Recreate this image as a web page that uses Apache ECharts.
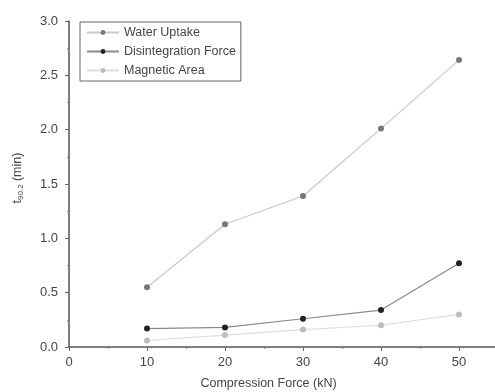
<!DOCTYPE html>
<html lang="en">
<head>
  <meta charset="UTF-8">
  <title>Compression Force</title>
  <script src="https://cdn.jsdelivr.net/npm/echarts@6/dist/echarts.min.js"></script>
  <style>
    body { margin: 0; background: #fff; }
  </style>
</head>
<body>
  <div id="main" style="width: 495px; height: 392px;"></div>
  <script>
    // data
    var forces = [10, 20, 30, 40, 50];
    var waterUptake = [0.55, 1.13, 1.39, 2.01, 2.64];
    var disintegration = [0.17, 0.18, 0.26, 0.34, 0.77];
    var magneticArea = [0.06, 0.11, 0.16, 0.20, 0.30];

    function pairs(ys) {
      return forces.map(function (x, i) { return [x, ys[i]]; });
    }

    var font = 'Liberation Sans, Arial, sans-serif';
    var myChart = echarts.init(document.getElementById('main'));

    var option = {
      animation: false,
      grid: { left: 69, right: -3, top: 21, bottom: 45, containLabel: false, outerBoundsMode: 'none' },
      legend: {
        left: 80, top: 22,
        orient: 'vertical',
        itemGap: 6,
        itemWidth: 32, itemHeight: 6,
        padding: [4, 5, 4, 6],
        borderColor: '#666', borderWidth: 1,
        textStyle: { fontFamily: font, fontSize: 12.5, color: '#444' },
        data: ['Water Uptake', 'Disintegration Force', 'Magnetic Area']
      },
      xAxis: {
        type: 'value', min: 0, max: 55, interval: 10,
        name: 'Compression Force (kN)',
        nameLocation: 'middle', nameGap: 30,
        nameTextStyle: { fontFamily: font, fontSize: 12.5, color: '#444', padding: [0, 30, 0, 0] },
        axisLine: { onZero: false, lineStyle: { color: '#555', width: 1.5 } },
        axisTick: { show: true, length: 4, lineStyle: { color: '#666' } },
        minorTick: { show: true, splitNumber: 2, length: 2, lineStyle: { color: '#888' } },
        axisLabel: {
          fontFamily: font, fontSize: 13, color: '#444', margin: 9,
          formatter: function (v) { return v > 50 ? '' : v; }
        },
        splitLine: { show: false }
      },
      yAxis: {
        type: 'value', min: 0, max: 3, interval: 0.5,
        name: '{t|t}{s|90.2} {t|(min)}',
        nameLocation: 'middle', nameGap: 44,
        nameTextStyle: {
          fontFamily: font, color: '#444', padding: [0, 0, 0, 12],
          rich: {
            t: { fontFamily: font, fontSize: 12.5, color: '#444' },
            s: { fontFamily: font, fontSize: 8, color: '#444', verticalAlign: 'bottom', padding: [6, 0, 0, 0] }
          }
        },
        axisLine: { show: true, lineStyle: { color: '#555', width: 1.5 } },
        axisTick: { show: true, length: 4, lineStyle: { color: '#666' } },
        minorTick: { show: true, splitNumber: 2, length: 2, lineStyle: { color: '#888' } },
        axisLabel: {
          fontFamily: font, fontSize: 13, color: '#444', margin: 11,
          formatter: function (v) { return v.toFixed(1); }
        },
        splitLine: { show: false }
      },
      series: [
        {
          name: 'Water Uptake', type: 'line', data: pairs(waterUptake),
          symbol: 'circle', symbolSize: 6,
          itemStyle: { color: '#777' },
          lineStyle: { color: '#c8c8c8', width: 1.2 }
        },
        {
          name: 'Disintegration Force', type: 'line', data: pairs(disintegration),
          symbol: 'circle', symbolSize: 6,
          itemStyle: { color: '#222' },
          lineStyle: { color: '#8a8a8a', width: 1.2 }
        },
        {
          name: 'Magnetic Area', type: 'line', data: pairs(magneticArea),
          symbol: 'circle', symbolSize: 6,
          itemStyle: { color: '#bdbdbd' },
          lineStyle: { color: '#dedede', width: 1.2 }
        }
      ]
    };
    myChart.setOption(option);
  </script>
</body>
</html>
